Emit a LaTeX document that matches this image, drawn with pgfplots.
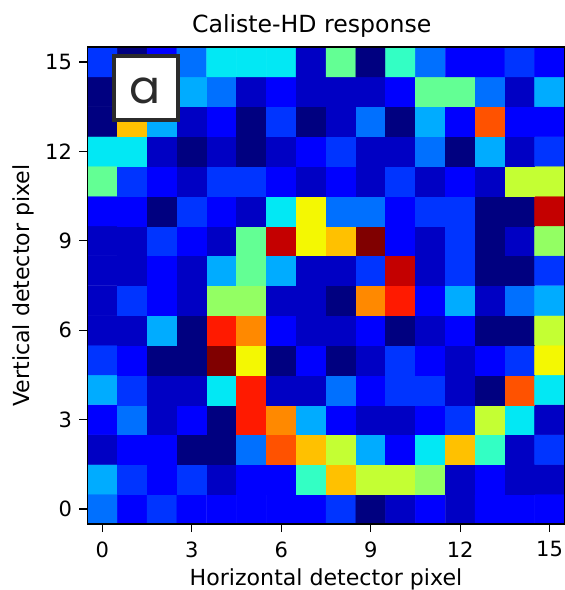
\documentclass[border=0pt]{standalone}
\usepackage{pgfplots}
\pgfplotsset{compat=1.18}
\usepackage{fontspec}
\setmainfont{DejaVu Sans}
\newfontfamily\boxfont{Poppins}
\pgfplotsset{colormap={mjet}{
rgb(0pt)=(0,0,0.5); rgb(110pt)=(0,0,1); rgb(125pt)=(0,0,1);
rgb(340pt)=(0,0.86,1); rgb(350pt)=(0,0.9,0.968); rgb(375pt)=(0.0806,1,0.887);
rgb(640pt)=(0.935,1,0.0323); rgb(650pt)=(0.968,0.963,0); rgb(660pt)=(1,0.926,0);
rgb(890pt)=(1,0.0741,0); rgb(910pt)=(0.909,0,0); rgb(1000pt)=(0.5,0,0)}}
\begin{document}
\begin{tikzpicture}
\useasboundingbox (0pt,0pt) rectangle (565pt,590pt);
\begin{axis}[
  at={(87.5pt,66pt)}, anchor=south west,
  scale only axis, width=477pt, height=477pt,
  xmin=-0.5, xmax=15.5, ymin=-0.5, ymax=15.5,
  xtick={0,3,6,9,12,15}, ytick={0,3,6,9,12,15},
  tick align=outside, xtick pos=bottom, ytick pos=left,
  major tick length=8pt,
  tick style={black,line width=1.2pt},
  axis line style={black,line width=1.2pt},
  axis on top,
  colormap name=mjet,
  point meta min=0, point meta max=17,
  enlargelimits=false,
  /pgf/number format/assume math mode=true,
  tick label style={font=\fontsize{21}{25}\selectfont},
  xticklabel style={yshift=-6pt},
  yticklabel style={xshift=-4pt},
  label style={font=\fontsize{22.1}{26}\selectfont},
  xlabel={Horizontal detector pixel},
  ylabel={Vertical detector pixel},
  xlabel style={at={(0.5,0)},anchor=north,yshift=-44.5pt,inner sep=0pt},
  ylabel style={at={(0,0.5)},anchor=south,yshift=50pt},
  title={Caliste-HD response},
  title style={font=\fontsize{23.6}{28}\selectfont,at={(0.47,1)},anchor=south,yshift=0pt},
]
\addplot[matrix plot*, mesh/cols=16, point meta=explicit, shader=flat corner] coordinates {
(0,0)[4] (1,0)[2] (2,0)[3] (3,0)[2] (4,0)[2] (5,0)[2] (6,0)[2] (7,0)[2] (8,0)[3] (9,0)[0] (10,0)[1] (11,0)[2] (12,0)[1] (13,0)[2] (14,0)[2] (15,0)[2]
(0,1)[5] (1,1)[3] (2,1)[2] (3,1)[3] (4,1)[1] (5,1)[2] (6,1)[2] (7,1)[7] (8,1)[12] (9,1)[10] (10,1)[10] (11,1)[9] (12,1)[1] (13,1)[2] (14,1)[1] (15,1)[1]
(0,2)[1] (1,2)[2] (2,2)[2] (3,2)[0] (4,2)[0] (5,2)[4] (6,2)[14] (7,2)[12] (8,2)[10] (9,2)[5] (10,2)[2] (11,2)[6] (12,2)[12] (13,2)[7] (14,2)[1] (15,2)[3]
(0,3)[2] (1,3)[4] (2,3)[1] (3,3)[2] (4,3)[0] (5,3)[15] (6,3)[13] (7,3)[5] (8,3)[2] (9,3)[1] (10,3)[1] (11,3)[2] (12,3)[3] (13,3)[10] (14,3)[6] (15,3)[1]
(0,4)[5] (1,4)[3] (2,4)[1] (3,4)[1] (4,4)[6] (5,4)[15] (6,4)[1] (7,4)[1] (8,4)[4] (9,4)[2] (10,4)[3] (11,4)[3] (12,4)[1] (13,4)[0] (14,4)[14] (15,4)[6]
(0,5)[3] (1,5)[2] (2,5)[0] (3,5)[0] (4,5)[17] (5,5)[11] (6,5)[0] (7,5)[2] (8,5)[0] (9,5)[1] (10,5)[3] (11,5)[2] (12,5)[1] (13,5)[2] (14,5)[3] (15,5)[11]
(0,6)[1] (1,6)[1] (2,6)[5] (3,6)[0] (4,6)[15] (5,6)[13] (6,6)[2] (7,6)[1] (8,6)[1] (9,6)[2] (10,6)[0] (11,6)[1] (12,6)[2] (13,6)[0] (14,6)[0] (15,6)[10]
(0,7)[1] (1,7)[3] (2,7)[2] (3,7)[1] (4,7)[9] (5,7)[9] (6,7)[1] (7,7)[1] (8,7)[0] (9,7)[13] (10,7)[15] (11,7)[2] (12,7)[5] (13,7)[1] (14,7)[4] (15,7)[5]
(0,8)[1] (1,8)[1] (2,8)[2] (3,8)[1] (4,8)[5] (5,8)[8] (6,8)[5] (7,8)[1] (8,8)[1] (9,8)[3] (10,8)[16] (11,8)[1] (12,8)[3] (13,8)[0] (14,8)[0] (15,8)[3]
(0,9)[1] (1,9)[1] (2,9)[3] (3,9)[2] (4,9)[1] (5,9)[8] (6,9)[16] (7,9)[11] (8,9)[12] (9,9)[17] (10,9)[2] (11,9)[1] (12,9)[3] (13,9)[0] (14,9)[1] (15,9)[9]
(0,10)[2] (1,10)[2] (2,10)[0] (3,10)[3] (4,10)[2] (5,10)[1] (6,10)[6] (7,10)[11] (8,10)[4] (9,10)[4] (10,10)[2] (11,10)[3] (12,10)[3] (13,10)[0] (14,10)[0] (15,10)[16]
(0,11)[8] (1,11)[3] (2,11)[2] (3,11)[1] (4,11)[3] (5,11)[3] (6,11)[2] (7,11)[1] (8,11)[2] (9,11)[1] (10,11)[3] (11,11)[1] (12,11)[2] (13,11)[1] (14,11)[10] (15,11)[10]
(0,12)[6] (1,12)[6] (2,12)[1] (3,12)[0] (4,12)[1] (5,12)[0] (6,12)[1] (7,12)[2] (8,12)[3] (9,12)[1] (10,12)[1] (11,12)[4] (12,12)[0] (13,12)[5] (14,12)[1] (15,12)[3]
(0,13)[0] (1,13)[12] (2,13)[5] (3,13)[1] (4,13)[2] (5,13)[0] (6,13)[3] (7,13)[0] (8,13)[1] (9,13)[4] (10,13)[0] (11,13)[5] (12,13)[2] (13,13)[14] (14,13)[2] (15,13)[2]
(0,14)[0] (1,14)[0] (2,14)[1] (3,14)[5] (4,14)[4] (5,14)[1] (6,14)[2] (7,14)[1] (8,14)[1] (9,14)[1] (10,14)[2] (11,14)[8] (12,14)[8] (13,14)[4] (14,14)[1] (15,14)[5]
(0,15)[3] (1,15)[0] (2,15)[2] (3,15)[4] (4,15)[6] (5,15)[6] (6,15)[6] (7,15)[1] (8,15)[8] (9,15)[0] (10,15)[7] (11,15)[4] (12,15)[2] (13,15)[2] (14,15)[3] (15,15)[2]
};
\end{axis}
\draw[fill=white,draw=black!83,line width=4pt] (113.5pt,469.5pt) rectangle (177.5pt,533.5pt);
\node[text=black!83,font={\boxfont\fontsize{46}{54}\selectfont},inner sep=0pt,anchor=center] at (145.5pt,499pt) {a};
\end{tikzpicture}
\end{document}
